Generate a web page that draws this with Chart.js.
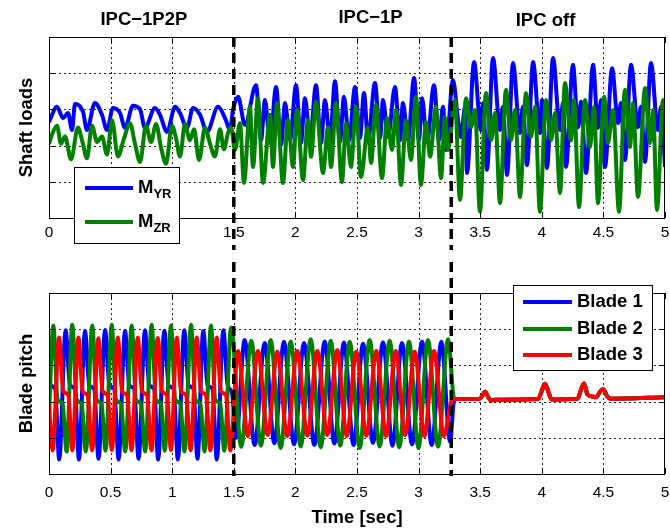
<!DOCTYPE html>
<html>
<head>
<meta charset="utf-8">
<script src="https://cdn.jsdelivr.net/npm/chart.js@4.4.0/dist/chart.umd.min.js"></script>
<style>
  body { margin: 0; background: #fff; }
  #wrap { position: relative; width: 670px; height: 532px; }
  canvas { position: absolute; left: 0; }
</style>
</head>
<body>
<div id="wrap">
  <canvas id="loads" width="670" height="262" style="top:0"></canvas>
  <canvas id="pitch" width="670" height="270" style="top:262px"></canvas>
</div>
<script>
// axes
const xTicks = [0, 0.5, 1, 1.5, 2, 2.5, 3, 3.5, 4, 4.5, 5];
const xTickLabels = ['0', '0.5', '1', '1.5', '2', '2.5', '3', '3.5', '4', '4.5', '5'];
const yTicks = [0, 1, 2, 3, 4, 5];

// controller switch times and phase names
const switchTimes = [1.5, 3.265];
const phaseNames = ['IPC\u22121P2P', 'IPC\u22121P', 'IPC off'];

// shaft loads, M_YR (blue)
const myrT = [0.000,0.065,0.114,0.154,0.187,0.211,0.276,0.308,0.373,0.430,0.471,0.519,0.576,0.617,0.682,0.739,0.779,0.860,0.901,0.958,
  1.023,1.063,1.120,1.169,1.226,1.282,1.372,1.429,1.469,1.494,
  1.534,1.591,1.680,1.721,1.753,1.794,1.843,1.883,1.916,1.956,2.005,2.045,2.078,2.119,2.167,2.208,2.240,2.281,2.321,2.362,
  2.394,2.435,2.484,2.524,2.557,2.589,2.646,2.687,2.711,2.752,2.808,2.849,2.873,2.914,2.963,3.003,3.028,3.068,3.125,3.166,3.198,3.222,
  3.279,3.320,3.344,3.377,3.393,3.450,3.506,3.523,3.555,3.604,3.661,3.685,3.718,3.766,3.823,3.847,3.880,3.929,3.985,4.002,
  4.042,4.091,4.148,4.172,4.196,4.253,4.294,4.318,4.359,4.416,4.456,4.481,4.513,4.570,4.619,4.643,4.675,4.724,4.781,4.805,
  4.838,4.886,4.943,4.968,5.000];
const myrV = [2.65,3.07,2.76,2.90,2.43,3.15,2.93,2.43,3.18,2.85,2.43,3.04,2.90,2.49,3.10,3.00,2.49,3.04,2.85,2.38,
  3.07,2.90,2.49,3.04,2.85,2.38,3.07,2.76,2.43,3.00,
  3.35,2.57,3.67,2.15,3.26,2.07,3.62,2.02,3.18,2.15,3.67,2.07,3.31,2.15,3.67,2.07,3.26,2.15,3.78,2.10,
  3.35,2.15,3.62,2.21,3.45,2.15,3.73,2.21,3.26,2.24,3.62,2.15,3.18,2.15,3.87,2.15,3.31,2.10,3.67,2.15,3.07,1.88,
  3.81,2.71,2.24,3.07,1.24,4.31,2.43,3.18,1.33,4.42,2.43,3.07,1.19,4.28,2.35,3.07,1.46,4.31,2.35,3.26,
  1.38,4.42,2.43,3.18,1.41,4.23,2.51,3.21,1.24,4.23,2.49,3.26,1.41,4.14,2.62,3.18,1.60,4.23,2.51,3.07,
  1.55,4.28,2.43,3.07,1.41];

// shaft loads, M_ZR (green)
const mzrT = [0.000,0.024,0.065,0.097,0.130,0.179,0.235,0.268,0.308,0.349,0.390,0.430,0.471,0.511,0.560,0.609,0.657,0.698,0.739,0.787,
  0.828,0.869,0.909,0.950,0.998,1.031,1.063,1.104,1.144,1.177,1.218,1.266,1.307,1.347,1.388,1.420,1.453,1.477,
  1.510,1.550,1.583,1.631,1.656,1.696,1.737,1.794,1.818,1.851,1.899,1.940,1.981,2.013,2.062,2.102,2.127,2.167,2.224,2.265,
  2.289,2.330,2.378,2.411,2.451,2.492,2.532,2.589,2.614,2.654,2.703,2.744,2.784,2.817,2.857,2.898,2.938,2.979,3.019,3.060,
  3.093,3.141,3.182,3.214,3.239,
  3.295,3.336,3.385,3.425,3.458,3.498,3.547,3.588,3.620,3.661,3.709,3.750,3.782,3.823,3.872,3.912,3.945,3.985,4.034,4.075,
  4.107,4.148,4.188,4.237,4.261,4.302,4.351,4.391,4.424,4.456,4.505,4.537,4.578,4.627,4.675,4.716,4.740,4.781,4.838,4.878,
  4.903,4.935,4.984,5.000];
const mzrV = [2.05,2.30,2.55,2.05,2.25,1.62,2.50,2.15,1.65,2.55,2.10,2.25,1.75,2.70,1.70,2.20,2.62,2.05,1.55,2.55,
  2.10,2.60,1.95,1.50,2.55,2.20,1.70,2.60,2.15,2.45,1.60,2.50,2.05,1.70,2.45,1.90,2.35,2.51,
  1.88,2.62,0.97,3.07,1.41,3.31,0.97,2.85,1.41,3.18,0.97,2.71,1.41,2.98,1.05,2.71,1.69,3.21,1.24,2.51,
  1.41,3.18,0.99,2.62,1.41,3.07,1.13,2.51,1.52,3.12,1.10,2.76,1.88,2.98,0.91,2.71,1.60,3.35,0.91,2.65,
  1.69,3.07,1.10,2.79,1.88,
  3.26,0.50,3.31,2.51,2.98,0.17,3.45,2.15,2.90,0.41,3.54,2.15,2.98,0.58,3.45,2.24,3.07,0.17,3.26,2.15,
  2.90,0.69,3.73,2.15,3.26,0.30,3.26,1.96,3.07,0.41,3.35,2.07,2.98,0.17,3.54,1.96,3.18,0.58,3.59,2.07,
  2.98,0.22,3.26,2.90];

// blade pitch, IPC active part
const b1T = [0.000,0.012,0.050,0.083,
  0.135,0.170,0.210,0.243, 0.292,0.327,0.367,0.402, 0.455,0.490,0.530,0.565, 0.617,0.652,0.692,0.727,
  0.779,0.814,0.854,0.886, 0.936,0.971,1.011,1.046, 1.098,1.133,1.173,1.205, 1.252,1.287,1.327,1.362,
  1.415,1.450,1.485,1.520,
  1.588,1.669,1.751,1.829,1.907,1.989,2.070,2.154,2.238,2.316,2.394,2.472,2.549,2.630,2.711,2.788,
  2.865,2.947,3.028,3.106,3.185,3.255];
const b1V = [2.75,2.45,2.35,0.40,
  3.97,2.45,2.35,0.40, 3.95,2.45,2.35,0.42, 3.98,2.45,2.35,0.40, 3.95,2.45,2.35,0.42,
  3.97,2.45,2.35,0.40, 3.96,2.45,2.35,0.40, 3.97,2.45,2.35,0.42, 3.95,2.45,2.35,0.40,
  3.97,2.45,2.25,1.00,
  3.70,0.80,3.62,0.85,3.65,0.82,3.62,0.80,3.66,0.84,3.63,0.80,3.60,0.86,3.64,0.78,
  3.62,0.82,3.66,0.80,3.65,0.90];

const b2T = [0.000,
  0.035,0.070,0.110,0.143, 0.189,0.224,0.264,0.299, 0.351,0.386,0.426,0.459, 0.509,0.544,0.584,0.619,
  0.671,0.706,0.746,0.781, 0.833,0.868,0.908,0.940, 0.990,1.025,1.065,1.100, 1.153,1.188,1.228,1.263,
  1.315,1.350,1.390,1.423,
  1.478,1.560,1.642,1.720,1.799,1.880,1.962,2.043,2.124,2.205,2.287,2.364,2.441,2.522,2.603,2.684,
  2.765,2.843,2.922,2.999,3.076,3.158,3.239];
const b2V = [1.60,
  4.10,2.05,1.95,0.62, 4.12,2.05,1.95,0.62, 4.10,2.05,1.95,0.64, 4.12,2.05,1.95,0.62,
  4.10,2.05,1.95,0.62, 4.12,2.05,1.95,0.64, 4.10,2.05,1.95,0.62, 4.12,2.05,1.95,0.62,
  4.10,2.05,1.95,0.64,
  4.05,0.75,3.68,0.78,3.70,0.72,3.66,0.76,3.72,0.74,3.68,0.78,3.65,0.72,3.70,0.76,
  3.68,0.74,3.66,0.72,3.70,0.76,3.72];

const b3T = [0.000,0.030,
  0.081,0.116,0.156,0.190, 0.238,0.273,0.313,0.350, 0.400,0.435,0.475,0.510, 0.558,0.593,0.633,0.670,
  0.720,0.755,0.795,0.832, 0.882,0.917,0.957,0.990, 1.037,1.072,1.112,1.150, 1.199,1.234,1.274,1.310,
  1.361,1.396,1.436,1.472,
  1.534,1.615,1.696,1.775,1.853,1.934,2.015,2.097,2.178,2.259,2.340,2.417,2.494,2.576,2.657,2.736,
  2.814,2.891,2.968,3.047,3.125,3.205,3.275];
const b3V = [1.90,0.65,
  3.77,2.28,2.18,0.65, 3.77,2.28,2.18,0.65, 3.75,2.28,2.18,0.66, 3.77,2.28,2.18,0.65,
  3.77,2.28,2.18,0.65, 3.76,2.28,2.18,0.66, 3.77,2.28,2.18,0.65, 3.77,2.28,2.18,0.65,
  3.77,2.28,2.18,0.65,
  3.40,1.05,3.40,1.08,3.38,1.05,3.40,1.06,3.40,1.08,3.42,1.05,3.38,1.06,3.40,1.05,
  3.40,1.08,3.38,1.05,3.40,1.05,2.07];

// blade pitch after IPC is switched off (all blades together)
const offT = [3.290,3.490,3.515,3.539,3.565,3.590,3.620,3.970,4.000,4.026,4.055,4.080,
  4.290,4.320,4.343,4.370,4.410,4.440,4.475,4.499,4.530,4.560,5.000];
const offV = [2.07,2.07,2.15,2.27,2.12,2.03,2.05,2.07,2.30,2.49,2.25,2.06,
  2.08,2.35,2.50,2.20,2.14,2.12,2.28,2.34,2.15,2.08,2.12];

const FONT = '"Liberation Sans", Arial, Helvetica, sans-serif';
const BOLD = 'bold 18.5px ' + FONT;
const pts = (ts, vs) => ts.map((t, i) => ({ x: t, y: vs[i] }));

function drawLegend(ctx, chart, L) {
  ctx.save();
  ctx.fillStyle = '#fff';
  ctx.fillRect(L.x, L.y, L.w, L.h);
  ctx.strokeStyle = '#000';
  ctx.lineWidth = 1;
  ctx.strokeRect(L.x + 0.5, L.y + 0.5, L.w, L.h);
  chart.data.datasets.forEach((ds, i) => {
    const ry = L.y + L.rows[i];
    ctx.strokeStyle = ds.borderColor;
    ctx.lineWidth = 4;
    ctx.beginPath();
    ctx.moveTo(L.x + L.l0, ry);
    ctx.lineTo(L.x + L.l1, ry);
    ctx.stroke();
    ctx.fillStyle = '#000';
    ctx.textAlign = 'left';
    ctx.textBaseline = 'middle';
    ctx.font = BOLD;
    ctx.fillText(ds.label, L.x + L.tx, ry);
    if (ds.sub) {
      const w = ctx.measureText(ds.label).width;
      ctx.font = 'bold 13px ' + FONT;
      ctx.fillText(ds.sub, L.x + L.tx + w, ry + 6);
    }
  });
  ctx.restore();
}

const decor = {
  id: 'decor',
  afterDraw(chart, args, o) {
    const { ctx, chartArea: a } = chart;
    const x = chart.scales.x, y = chart.scales.y;

    // dotted grid, slid in behind what is already drawn
    ctx.save();
    ctx.globalCompositeOperation = 'destination-over';
    ctx.strokeStyle = '#222';
    ctx.lineWidth = 1;
    ctx.setLineDash([2, 3]);
    ctx.beginPath();
    xTicks.slice(1, -1).forEach(v => {
      const px = Math.round(x.getPixelForValue(v)) + 0.5;
      ctx.moveTo(px, a.top); ctx.lineTo(px, a.bottom);
    });
    yTicks.slice(1, -1).forEach(v => {
      const py = Math.round(y.getPixelForValue(v)) + 0.5;
      ctx.moveTo(a.left, py); ctx.lineTo(a.right, py);
    });
    ctx.stroke();
    ctx.restore();

    ctx.save();
    // inward tick marks on all four sides
    ctx.strokeStyle = '#000';
    ctx.lineWidth = 1;
    ctx.beginPath();
    xTicks.forEach(v => {
      const px = Math.round(x.getPixelForValue(v)) + 0.5;
      ctx.moveTo(px, a.bottom); ctx.lineTo(px, a.bottom - 6);
      ctx.moveTo(px, a.top); ctx.lineTo(px, a.top + 6);
    });
    yTicks.forEach(v => {
      const py = Math.round(y.getPixelForValue(v)) + 0.5;
      ctx.moveTo(a.left, py); ctx.lineTo(a.left + 6, py);
      ctx.moveTo(a.right, py); ctx.lineTo(a.right - 6, py);
    });
    ctx.stroke();
    ctx.strokeRect(Math.round(a.left) + 0.5, Math.round(a.top) + 0.5, Math.round(a.width) - 1, Math.round(a.height));

    // y axis title
    ctx.fillStyle = '#000';
    ctx.font = BOLD;
    ctx.textAlign = 'center';
    ctx.textBaseline = 'middle';
    ctx.save();
    ctx.translate(27, (a.top + a.bottom) / 2);
    ctx.rotate(-Math.PI / 2);
    ctx.fillText(o.yTitle, 0, 0);
    ctx.restore();

    if (o.xTitle) ctx.fillText(o.xTitle, (a.left + a.right) / 2, o.xTitleY);
    if (o.phaseAt) {
      o.phaseAt.forEach((t, i) => ctx.fillText(phaseNames[i], x.getPixelForValue(t), o.phaseY[i]));
    }

    // controller switch lines
    ctx.strokeStyle = '#000';
    ctx.setLineDash([10, 6]);
    ctx.lineWidth = 3.5;
    ctx.beginPath();
    switchTimes.forEach(t => {
      const px = x.getPixelForValue(t);
      ctx.moveTo(px, a.top + o.dashTop);
      ctx.lineTo(px, a.bottom + o.dashBottom);
    });
    ctx.stroke();
    ctx.restore();

    drawLegend(ctx, chart, o.legend);
  }
};

function options(pad, axisH, tickPad, deco) {
  return {
    responsive: false,
    animation: false,
    events: [],
    layout: { padding: pad },
    elements: {
      point: { radius: 0 },
      line: { borderWidth: 4, cubicInterpolationMode: 'monotone', fill: false }
    },
    plugins: { legend: { display: false }, tooltip: { enabled: false }, decor: deco },
    scales: {
      x: {
        type: 'linear', min: 0, max: 5,
        afterBuildTicks: s => { s.ticks = xTicks.map(v => ({ value: v })); },
        afterFit: s => { s.height = axisH; s.paddingLeft = 0; s.paddingRight = 0; },
        grid: { display: false, drawTicks: false },
        border: { display: false },
        ticks: {
          padding: tickPad, color: '#000', autoSkip: false, maxRotation: 0,
          font: { family: FONT, size: 15.5 },
          callback: (v, i) => xTickLabels[i]
        }
      },
      y: {
        type: 'linear', min: 0, max: 5,
        afterBuildTicks: s => { s.ticks = yTicks.map(v => ({ value: v })); },
        afterFit: s => { s.width = 0; s.paddingTop = 0; s.paddingBottom = 0; },
        grid: { display: false, drawTicks: false },
        border: { display: false },
        ticks: { display: false }
      }
    }
  };
}

new Chart(document.getElementById('loads'), {
  type: 'line',
  data: {
    datasets: [
      { label: 'M', sub: 'YR', data: pts(myrT, myrV), borderColor: '#0000ff', order: 1 },
      { label: 'M', sub: 'ZR', data: pts(mzrT, mzrV), borderColor: '#008000', order: 0 }
    ]
  },
  options: options({ left: 49, right: 5, top: 37, bottom: 0 }, 44, 5, {
    yTitle: 'Shaft loads',
    phaseAt: [0.77, 2.61, 4.03],
    phaseY: [20, 18, 21],
    dashTop: 0, dashBottom: 32,
    legend: { x: 74, y: 167, w: 105, h: 76, rows: [21, 55], l0: 11, l1: 59, tx: 64 }
  }),
  plugins: [decor]
});

new Chart(document.getElementById('pitch'), {
  type: 'line',
  data: {
    datasets: [
      { label: 'Blade 1', data: pts(b1T.concat(offT), b1V.concat(offV)), borderColor: '#0000ff', order: 2 },
      { label: 'Blade 2', data: pts(b2T.concat(offT), b2V.concat(offV)), borderColor: '#008000', order: 1 },
      { label: 'Blade 3', data: pts(b3T.concat(offT), b3V.concat(offV)), borderColor: '#ff0000', order: 0 }
    ]
  },
  options: options({ left: 49, right: 5, top: 31, bottom: 0 }, 58, 9, {
    yTitle: 'Blade pitch',
    xTitle: 'Time [sec]',
    xTitleY: 256,
    dashTop: -31, dashBottom: 2,
    legend: { x: 513, y: 23, w: 139, h: 85, rows: [17, 44, 70], l0: 10, l1: 59, tx: 64 }
  }),
  plugins: [decor]
});
</script>
</body>
</html>
